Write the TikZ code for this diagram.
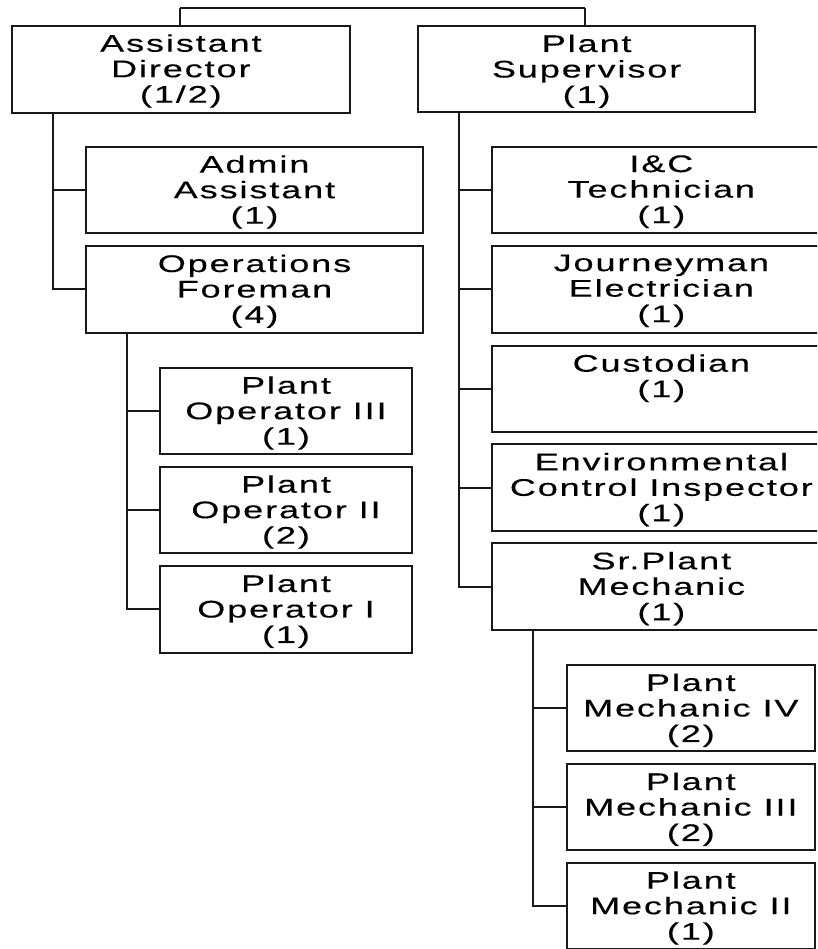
\documentclass[tikz,border=0pt]{standalone}
\usepackage{fontspec}
\newfontfamily\orgfont{Liberation Sans}[FakeStretch=1.5,LetterSpace=8,FakeBold=0.3]
\begin{document}
\begin{tikzpicture}[x=1pt,y=-1pt,
  orgrect/.style={draw=black!90, line width=2pt, fill=white, inner sep=0pt, outer sep=0pt, rectangle},
  orgtext/.style={font=\orgfont\fontsize{24}{25.5}\selectfont, align=center, inner sep=0pt, text=black},
  link/.style={draw=black!90, line width=2pt}]
% org box: name, left, top, right, bottom, text
\newcommand\orgbox[6]{%
  \node[orgrect, minimum width={#4-#2}, minimum height={#5-#3}, anchor=north west] (#1) at (#2,#3) {};
  \node[orgtext, anchor=north] (#1-t) at ([yshift=-8.4pt]#1.north) {#6};}
\useasboundingbox (0,0) rectangle (817,949);
\clip (0,0) rectangle (817,949);

% spine coordinates
\coordinate (jl) at (180,8.3);
\coordinate (jr) at (585,8.3);
\coordinate (adsp) at (53.3,0);
\coordinate (ofsp) at (127.3,0);
\coordinate (pssp) at (458.8,0);
\coordinate (spsp) at (533,0);

% top junction line between the two heads
\path[link] (jl) -- (jr);

% left branch
\orgbox{ad}{11.7}{25.7}{350}{112.7}{Assistant\\Director\\(1/2)}
\orgbox{aa}{86}{146.7}{423}{233.3}{Admin\\Assistant\\(1)}
\orgbox{of}{86}{246}{423}{332.7}{Operations\\Foreman\\(4)}
\orgbox{po3}{160}{367.7}{412}{454}{Plant\\Operator III\\(1)}
\orgbox{po2}{160}{466.7}{412}{553.3}{Plant\\Operator II\\(2)}
\orgbox{po1}{160}{566}{412}{652.7}{Plant\\Operator I\\(1)}

% right branch
\orgbox{ps}{418.3}{26}{755}{112.5}{Plant\\Supervisor\\(1)}
\orgbox{ic}{491.7}{146.7}{831}{233.3}{I\&C\\Technician\\(1)}
\orgbox{je}{491.7}{246}{831}{332.7}{Journeyman\\Electrician\\(1)}
\orgbox{cu}{491.7}{345.7}{831}{432.3}{Custodian\\(1)}
\orgbox{ec}{491.7}{444.3}{831}{531}{Environmental\\Control Inspector\\(1)}
\orgbox{sp}{491.7}{543.3}{831}{630}{Sr.Plant\\Mechanic\\(1)}
\orgbox{pm4}{566.7}{665}{815}{750.7}{Plant\\Mechanic IV\\(2)}
\orgbox{pm3}{566.7}{764}{815}{850}{Plant\\Mechanic III\\(2)}
\orgbox{pm2}{566.7}{862.7}{815}{949.3}{Plant\\Mechanic II\\(1)}

% reporting lines
\path[link] (ad.north -| jl) -- (jl);
\path[link] (ps.north -| jr) -- (jr);

\path[link] (ad.south -| adsp) |- (of.west);
\path[link] (aa.west) -- (aa.west -| adsp);

\path[link] (of.south -| ofsp) |- (po1.west);
\path[link] (po3.west) -- (po3.west -| ofsp);
\path[link] (po2.west) -- (po2.west -| ofsp);

\path[link] (ps.south -| pssp) |- (sp.west);
\path[link] (ic.west) -- (ic.west -| pssp);
\path[link] (je.west) -- (je.west -| pssp);
\path[link] (cu.west) -- (cu.west -| pssp);
\path[link] (ec.west) -- (ec.west -| pssp);

\path[link] (sp.south -| spsp) |- (pm2.west);
\path[link] (pm4.west) -- (pm4.west -| spsp);
\path[link] (pm3.west) -- (pm3.west -| spsp);
\end{tikzpicture}
\end{document}
